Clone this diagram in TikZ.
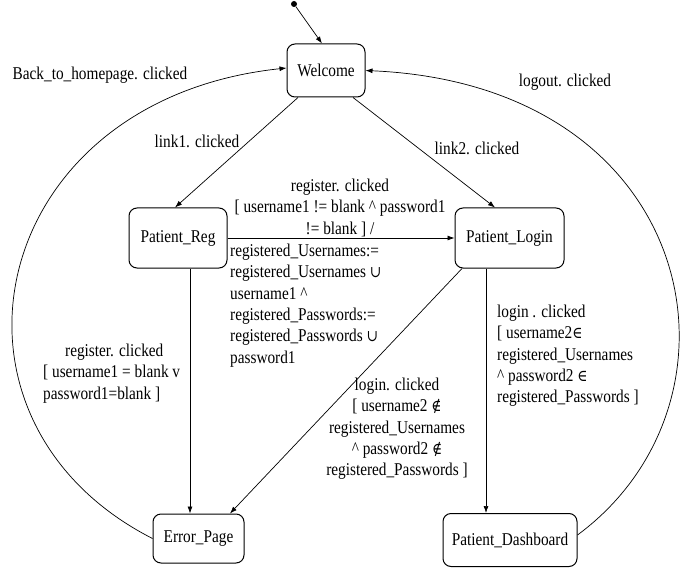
\documentclass[tikz,border=0pt]{standalone}
\usepackage{fontspec}
\setmainfont{Liberation Serif}[FakeStretch=0.85]
\newfontfamily\symf{DejaVu Serif}[FakeStretch=0.85,Scale=0.9]
\usetikzlibrary{arrows.meta}
\begin{document}
\begin{tikzpicture}[x=1pt,y=-1pt,
  font=\fontsize{18}{21.3}\selectfont,
  state/.style={draw, rounded corners=8pt, line width=1pt, inner sep=0pt, align=center},
  lbl/.style={inner sep=0pt},
  tr/.style={-{Latex[length=7pt,width=5pt]}, line width=0.7pt}]
\useasboundingbox (0,0) rectangle (687,569);
% states
\node[state, minimum width=78pt, minimum height=53pt] (welcome) at (326,70.5) {Welcome};
\node[state, minimum width=98pt, minimum height=60pt] (reg) at (178,238) {Patient\_Reg};
\node[state, minimum width=109pt, minimum height=60pt] (login) at (509.5,238) {Patient\_Login};
\node[state, minimum width=91pt, minimum height=49pt] (err) at (198.5,538.5) {Error\_Page};
\node[state, minimum width=134pt, minimum height=53pt] (dash) at (510,540) {Patient\_Dashboard};
\node[circle, fill, inner sep=0pt, minimum size=6pt] (init) at (294,4) {};
% transitions
\draw[tr] (init) -- ([xshift=-4pt]welcome.north);
\draw[tr] ([xshift=-28pt]welcome.south) -- ([xshift=-3pt]reg.north);
\draw[tr] ([xshift=27pt]welcome.south) -- ([xshift=-14.5pt]login.north);
\draw[tr] (reg.east) -- (login.west);
\draw[tr] ([xshift=12pt]reg.south) -- ([xshift=12pt]reg.south |- err.north);
\draw[tr] ([xshift=-47.5pt]login.south) -- ([xshift=31.5pt]err.north);
\draw[tr] ([xshift=-23.5pt]login.south) -- ([xshift=-23.5pt]login.south |- dash.north);
\draw[tr] (err.west) .. controls (-80,420) and (-15,100) .. ([yshift=2.5pt]welcome.west);
\draw[tr] ([yshift=5pt]dash.east) .. controls (760,400) and (700,85) .. (welcome.east);
% labels
\node[lbl] (l1) at (197,141) {link1. clicked};
\node[lbl] (l2) at (477,148) {link2. clicked};
\node[lbl] (lback) at (100,75) {Back\_to\_homepage. clicked};
\node[lbl] (lout) at (565,82) {logout. clicked};
\node[lbl, anchor=north, align=center] (lreg1) at (340,179)
  {register. clicked\\{[} username1 != blank \textasciicircum{} password1\\!= blank ] /};
\node[lbl, anchor=north west, align=left] (lreg2) at (230,244)
  {registered\_Usernames:=\\registered\_Usernames {\symf ∪}\\username1 \textasciicircum\\registered\_Passwords:=\\registered\_Passwords {\symf ∪}\\password1};
\node[lbl, anchor=north west, align=left] (lerr) at (43,344)
  {\hspace*{22pt}register. clicked\\{[} username1 = blank v\\password1=blank ]};
\node[lbl, anchor=north, align=center] (llogerr) at (397,378)
  {login. clicked\\{[} username2 {\symf ∉}\\registered\_Usernames\\\textasciicircum{} password2 {\symf ∉}\\registered\_Passwords ]};
\node[lbl, anchor=north west, align=left] (ldash) at (497,305)
  {login . clicked\\{[} username2{\symf ∈}\\registered\_Usernames\\\textasciicircum{} password2 {\symf ∈}\\registered\_Passwords ]};
\end{tikzpicture}
\end{document}
